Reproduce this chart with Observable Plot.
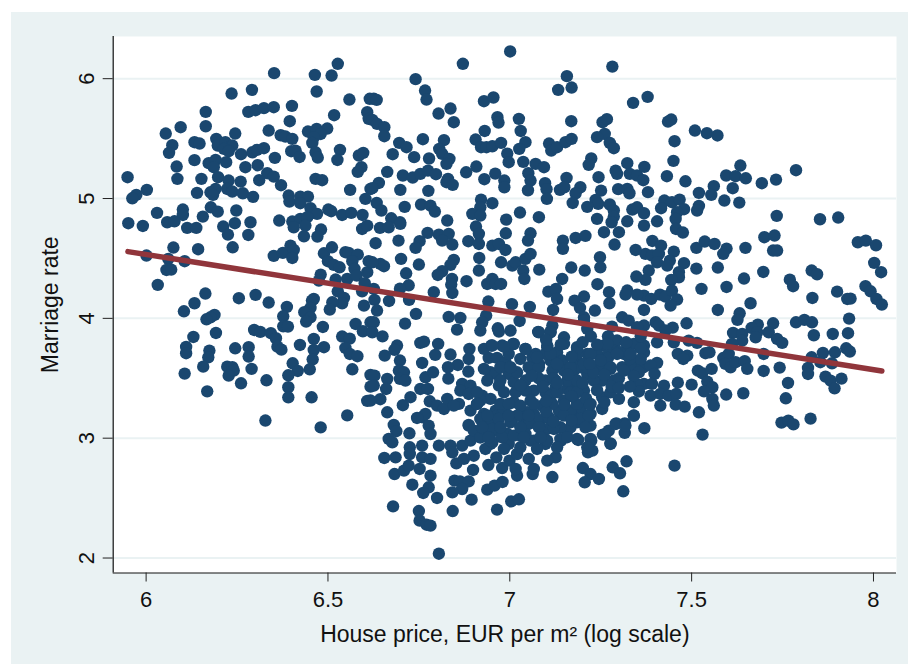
<!DOCTYPE html>
<html><head><meta charset="utf-8">
<script src="https://cdn.jsdelivr.net/npm/d3@7"></script>
<script src="https://cdn.jsdelivr.net/npm/@observablehq/plot@0.6"></script>
<style>
html,body{margin:0;padding:0;background:#fff;width:908px;height:664px;overflow:hidden}
#panel{position:absolute;left:11px;top:12px;width:897px;height:652px;background:#eaf2f3}
#chart{position:absolute;left:0;top:0}
#chart svg{background:transparent}
</style></head><body>
<div id="panel"></div><div id="chart"></div>
<script>
const xTicks=[6,6.5,7,7.5,8];
const yTicks=[2,3,4,5,6];
const xTitle="House price, EUR per m² (log scale)";
const yTitle="Marriage rate";
const fitX=[5.95,8.023];
const fitY=[4.557,3.561];
const upperLeft=[[6.352,6.046],[6.464,6.032],[6.510,6.026],[6.527,6.124],[6.469,5.893],[6.235,5.876],[6.291,5.907],[6.559,5.826],[6.164,5.723],[6.281,5.723],[6.301,5.737],[6.324,5.754],[6.351,5.762],[6.401,5.773],[6.395,5.645],[6.517,5.695],[6.164,5.603],[6.095,5.595],[6.054,5.542],[6.245,5.542],[6.337,5.567],[6.370,5.528],[6.383,5.517],[6.402,5.498],[6.445,5.559],[6.469,5.581],[6.498,5.584],[6.480,5.539],[6.461,5.512],[6.457,5.464],[6.133,5.470],[6.147,5.459],[6.193,5.498],[6.072,5.445],[6.063,5.381],[6.197,5.442],[6.218,5.470],[6.237,5.442],[6.214,5.414],[6.227,5.395],[6.261,5.370],[6.292,5.386],[6.305,5.406],[6.324,5.420],[6.399,5.395],[6.411,5.400],[6.422,5.347],[6.466,5.386],[6.472,5.342],[6.533,5.406],[6.526,5.322],[6.585,5.359],[6.597,5.381],[6.354,5.339],[6.133,5.320],[6.084,5.267],[6.172,5.295],[6.191,5.322],[6.186,5.261],[6.220,5.303],[6.273,5.261],[6.307,5.278],[6.086,5.164],[6.152,5.164],[6.198,5.178],[6.227,5.150],[6.260,5.141],[6.333,5.211],[6.351,5.183],[6.311,5.153],[6.371,5.111],[6.466,5.164],[6.484,5.153],[6.592,5.261],[6.582,5.222],[5.949,5.178],[6.002,5.072],[5.973,5.030],[5.962,5.002],[6.140,5.047],[6.191,5.080],[6.177,5.052],[6.184,5.030],[6.223,5.080],[6.237,5.058],[6.266,5.044],[6.294,5.014],[6.392,5.025],[6.394,4.975],[6.424,5.016],[6.445,5.016],[6.424,4.961],[6.452,4.919],[6.470,4.872],[6.501,4.908],[6.509,4.894],[6.539,4.863],[6.564,4.880],[6.595,4.863],[6.561,5.072],[6.603,4.997],[6.617,5.080],[6.615,5.832],[6.608,5.720],[6.612,5.665],[6.178,4.927],[6.197,4.891],[6.248,4.900],[6.030,4.880],[6.101,4.908],[6.101,4.863],[6.156,4.849],[6.244,4.794],[6.287,4.802],[6.366,4.816],[6.402,4.808],[6.424,4.830],[6.443,4.844],[5.951,4.794],[6.058,4.802],[6.078,4.810]];
const middleLeft=[[5.991,4.771],[6.113,4.755],[6.138,4.755],[6.212,4.766],[6.225,4.699],[6.281,4.696],[6.406,4.760],[6.438,4.774],[6.434,4.685],[6.481,4.741],[6.471,4.682],[6.594,4.746],[6.608,4.774],[6.075,4.591],[6.143,4.577],[6.238,4.593],[6.001,4.524],[6.061,4.496],[6.106,4.477],[6.056,4.404],[6.069,4.407],[6.032,4.279],[6.351,4.521],[6.376,4.546],[6.397,4.607],[6.406,4.571],[6.402,4.504],[6.489,4.543],[6.511,4.593],[6.500,4.477],[6.516,4.446],[6.532,4.426],[6.548,4.552],[6.557,4.546],[6.582,4.532],[6.567,4.477],[6.573,4.413],[6.553,4.329],[6.579,4.357],[6.612,4.477],[6.608,4.385],[6.480,4.365],[6.475,4.315],[6.521,4.324],[6.601,4.293],[6.594,4.226],[6.527,4.226],[6.544,4.170],[6.539,4.126],[6.512,4.134],[6.505,4.073],[6.599,4.106],[6.163,4.207],[6.133,4.126],[6.104,4.059],[6.255,4.168],[6.301,4.196],[6.337,4.132],[6.387,4.095],[6.377,4.017],[6.377,3.934],[6.390,3.931],[6.461,4.162],[6.456,4.148],[6.452,4.087],[6.435,4.051],[6.452,4.009],[6.440,3.973],[6.188,4.029],[6.177,4.009],[6.166,3.992],[6.192,3.878],[6.130,3.845],[6.486,3.928],[6.576,3.953],[6.596,3.892],[6.617,3.967],[6.297,3.903],[6.314,3.887],[6.343,3.876],[6.357,3.834],[6.461,3.828],[6.539,3.848],[6.560,3.831],[6.110,3.761],[6.110,3.709],[6.174,3.731],[6.171,3.675],[6.245,3.750],[6.282,3.759],[6.282,3.681],[6.361,3.764],[6.372,3.739],[6.423,3.778],[6.461,3.736],[6.489,3.759],[6.458,3.658],[6.548,3.753],[6.560,3.703],[6.581,3.684],[6.157,3.597],[6.106,3.539],[6.223,3.597],[6.237,3.592],[6.241,3.564],[6.227,3.522],[6.290,3.578],[6.261,3.458],[6.331,3.483],[6.403,3.625],[6.417,3.561],[6.391,3.525],[6.450,3.575],[6.567,3.575],[6.617,3.528],[6.391,3.425],[6.391,3.341],[6.455,3.341],[6.168,3.391],[6.608,3.311],[6.617,3.430],[6.328,3.147],[6.480,3.090],[6.553,3.190]];
const upperCentre=[[7.001,6.227],[6.871,6.124],[7.282,6.101],[6.741,5.996],[7.157,6.021],[7.133,5.907],[7.170,5.926],[6.767,5.901],[6.771,5.826],[6.626,5.832],[6.634,5.823],[6.929,5.812],[6.955,5.843],[6.837,5.751],[6.804,5.709],[6.846,5.637],[7.339,5.798],[6.966,5.679],[6.969,5.634],[7.025,5.665],[7.030,5.564],[7.169,5.645],[7.255,5.637],[7.267,5.662],[6.931,5.564],[7.261,5.539],[6.622,5.656],[6.635,5.623],[6.655,5.595],[6.655,5.520],[6.696,5.464],[6.716,5.428],[6.761,5.495],[6.819,5.487],[6.806,5.414],[6.678,5.370],[6.737,5.345],[6.778,5.334],[6.906,5.492],[6.921,5.428],[6.936,5.428],[6.952,5.436],[6.976,5.464],[6.993,5.375],[6.997,5.303],[7.043,5.470],[7.026,5.414],[7.037,5.306],[7.108,5.459],[7.114,5.400],[7.130,5.428],[7.153,5.470],[7.170,5.498],[7.240,5.512],[7.275,5.464],[7.286,5.420],[7.224,5.334],[7.217,5.281],[7.323,5.295],[7.071,5.289],[7.094,5.261],[6.814,5.373],[6.834,5.331],[6.826,5.289],[6.663,5.222],[6.706,5.192],[6.733,5.175],[6.754,5.206],[6.775,5.233],[6.797,5.203],[6.880,5.219],[6.908,5.267],[6.960,5.208],[6.930,5.161],[6.985,5.150],[6.985,5.094],[7.051,5.211],[7.057,5.150],[7.050,5.069],[7.097,5.128],[7.101,5.078],[7.102,4.997],[7.156,5.172],[7.138,5.072],[7.150,5.094],[7.194,5.094],[7.181,5.044],[7.173,4.963],[7.244,5.178],[7.291,5.233],[7.295,5.206],[7.330,5.206],[7.350,5.192],[7.251,5.066],[7.298,5.078],[7.323,5.080],[7.329,5.044],[7.236,4.988],[7.243,4.955],[7.213,4.930],[7.275,4.950],[7.286,4.900],[7.286,4.849],[7.337,4.908],[7.350,4.927],[6.830,5.164],[6.826,5.136],[6.843,5.114],[6.640,5.130],[6.622,5.086],[6.699,5.072],[6.776,5.064],[6.634,4.963],[6.647,4.900],[6.711,4.930],[6.756,4.950],[6.782,4.941],[6.794,4.891],[6.921,4.991],[6.952,4.961],[6.919,4.927],[6.897,4.872],[6.919,4.858],[7.028,4.883],[6.990,4.824],[7.080,4.844],[6.674,4.835],[6.698,4.802],[6.828,4.816],[7.240,4.830],[7.323,4.810]];
const upperRight=[[7.379,5.848],[7.435,5.642],[7.444,5.659],[7.509,5.567],[7.542,5.545],[7.571,5.526],[7.453,5.478],[7.450,5.314],[7.370,5.264],[7.367,5.153],[7.432,5.186],[7.483,5.144],[7.380,5.053],[7.634,5.275],[7.595,5.192],[7.621,5.186],[7.649,5.169],[7.613,5.086],[7.561,5.103],[7.554,5.030],[7.520,5.047],[7.693,5.128],[7.732,5.158],[7.787,5.236],[7.590,4.983],[7.631,4.966],[7.425,4.983],[7.446,4.969],[7.467,4.991],[7.416,4.919],[7.479,4.911],[7.460,4.886],[7.520,4.938],[7.515,4.900],[7.369,4.877],[7.405,4.810],[7.456,4.830],[7.734,4.855],[7.853,4.827],[7.903,4.841]];
const middleRight=[[7.369,4.774],[7.457,4.746],[7.476,4.716],[7.392,4.646],[7.416,4.607],[7.513,4.588],[7.536,4.641],[7.563,4.621],[7.596,4.582],[7.587,4.538],[7.648,4.588],[7.700,4.677],[7.728,4.691],[7.724,4.566],[7.735,4.566],[7.957,4.635],[7.979,4.649],[8.007,4.610],[8.002,4.463],[8.021,4.385],[7.373,4.538],[7.391,4.524],[7.410,4.538],[7.451,4.557],[7.440,4.482],[7.405,4.468],[7.433,4.440],[7.479,4.460],[7.513,4.415],[7.572,4.424],[7.382,4.399],[7.373,4.321],[7.465,4.385],[7.465,4.343],[7.444,4.321],[7.644,4.332],[7.697,4.387],[7.770,4.323],[7.779,4.268],[7.830,4.399],[7.845,4.368],[7.527,4.246],[7.596,4.262],[7.900,4.223],[7.978,4.268],[7.992,4.226],[8.008,4.162],[8.023,4.115],[7.928,4.162],[7.937,4.165],[7.832,4.170],[7.369,4.190],[7.389,4.162],[7.413,4.198],[7.428,4.182],[7.446,4.232],[7.460,4.157],[7.442,4.106],[7.369,4.070],[7.572,4.070],[7.662,4.126],[7.632,4.042],[7.626,3.987],[7.401,3.967],[7.410,3.940],[7.369,3.940],[7.448,3.923],[7.486,3.959],[7.428,3.898],[7.933,3.998],[7.787,3.967],[7.810,3.987],[7.831,3.967],[7.724,3.959],[7.682,3.948],[7.665,3.920],[7.680,3.884],[7.676,3.842],[7.712,3.884],[7.614,3.878],[7.639,3.870],[7.639,3.814],[7.836,3.859],[7.888,3.870],[7.930,3.876],[7.735,3.828],[7.749,3.795],[7.405,3.800],[7.451,3.800],[7.492,3.814],[7.515,3.795],[7.369,3.773],[7.611,3.787],[7.925,3.750],[7.935,3.723],[7.894,3.717],[7.861,3.711],[7.830,3.675],[7.854,3.634],[7.886,3.625],[7.698,3.703],[7.462,3.703],[7.488,3.689],[7.477,3.661],[7.538,3.709],[7.549,3.717],[7.587,3.669],[7.602,3.703],[7.593,3.620],[7.607,3.592],[7.621,3.634],[7.646,3.642],[7.653,3.578],[7.698,3.561],[7.742,3.589],[7.820,3.586],[7.820,3.536],[7.868,3.514],[7.882,3.480],[7.912,3.497],[7.893,3.416],[7.765,3.461],[7.759,3.333],[7.369,3.717],[7.367,3.592],[7.405,3.628],[7.387,3.606],[7.398,3.536],[7.517,3.564],[7.529,3.542],[7.555,3.578],[7.462,3.464],[7.500,3.447],[7.543,3.472],[7.557,3.425],[7.534,3.391],[7.595,3.364],[7.642,3.375],[7.369,3.453],[7.391,3.453],[7.424,3.439],[7.387,3.355],[7.414,3.369],[7.437,3.355],[7.458,3.369],[7.414,3.272],[7.456,3.280],[7.481,3.263],[7.557,3.327],[7.561,3.272],[7.520,3.216],[7.370,3.083],[7.530,3.030],[7.453,2.771],[7.747,3.130],[7.766,3.146],[7.780,3.115],[7.827,3.163]];
const middleCentre=[[6.643,4.755],[6.667,4.760],[6.699,4.788],[6.774,4.713],[6.631,4.627],[6.694,4.649],[6.752,4.644],[6.741,4.588],[6.805,4.699],[6.832,4.705],[6.814,4.649],[6.842,4.616],[6.886,4.644],[6.907,4.766],[6.915,4.705],[6.915,4.621],[6.989,4.710],[6.952,4.607],[6.970,4.621],[6.988,4.571],[7.057,4.710],[7.050,4.649],[7.146,4.649],[7.146,4.580],[7.181,4.671],[7.208,4.688],[7.259,4.719],[7.280,4.802],[7.300,4.719],[7.288,4.616],[7.346,4.571],[6.701,4.496],[6.750,4.449],[6.644,4.454],[6.654,4.435],[6.622,4.468],[6.715,4.376],[6.846,4.488],[6.837,4.446],[6.916,4.504],[6.915,4.399],[6.814,4.393],[6.802,4.362],[6.976,4.468],[7.007,4.440],[7.016,4.468],[7.043,4.496],[7.057,4.538],[7.037,4.399],[7.040,4.329],[7.081,4.407],[7.169,4.424],[7.206,4.399],[7.248,4.510],[7.249,4.426],[7.348,4.349],[6.841,4.329],[6.839,4.282],[6.842,4.212],[6.881,4.310],[6.938,4.287],[6.952,4.329],[6.961,4.287],[6.976,4.287],[7.144,4.329],[7.241,4.285],[6.722,4.276],[6.698,4.248],[6.791,4.218],[6.626,4.246],[6.628,4.154],[6.668,4.145],[6.723,4.154],[6.635,4.065],[7.106,4.223],[7.127,4.246],[7.130,4.162],[7.204,4.182],[7.178,4.148],[7.193,4.087],[7.273,4.218],[7.274,4.126],[7.323,4.232],[7.318,4.198],[7.350,4.198],[7.234,4.065],[7.204,4.009],[6.941,4.140],[7.006,4.118],[7.055,4.095],[7.119,4.070],[6.742,4.037],[6.712,3.956],[6.832,4.012],[6.864,4.004],[6.855,3.906],[6.935,4.023],[6.924,3.967],[6.919,3.898],[7.027,3.978],[6.967,3.917],[7.002,3.898],[7.078,3.887],[7.117,3.940],[7.112,3.889],[6.626,3.967],[6.622,3.884],[6.650,3.850],[7.204,3.981],[7.213,3.912],[7.223,3.850],[7.281,3.931],[7.309,4.009],[7.327,3.981],[7.350,3.926]];
const lowerWest=[[6.690,3.773],[6.656,3.689],[6.683,3.737],[6.698,3.648],[6.754,3.795],[6.764,3.806],[6.803,3.787],[6.795,3.695],[6.759,3.628],[6.837,3.698],[6.857,3.611],[6.830,3.592],[6.889,3.745],[6.887,3.661],[6.886,3.556],[6.831,3.497],[6.628,3.522],[6.663,3.495],[6.626,3.439],[6.660,3.411],[6.695,3.564],[6.709,3.550],[6.698,3.495],[6.713,3.481],[6.768,3.508],[6.789,3.550],[6.754,3.411],[6.775,3.411],[6.644,3.325],[6.617,3.314],[6.727,3.342],[6.706,3.275],[6.663,3.216],[6.780,3.308],[6.800,3.272],[6.819,3.244],[6.828,3.328],[6.860,3.286],[6.846,3.272],[6.869,3.453],[6.892,3.439],[6.864,3.397],[6.887,3.369],[6.924,3.355],[6.892,3.230],[6.910,3.286],[6.759,3.175],[6.768,3.202],[6.745,3.169],[6.681,3.111],[6.688,3.058],[6.724,3.041],[6.667,2.994],[6.677,2.966],[6.777,3.105],[6.782,3.035],[6.887,3.105],[6.910,3.035],[6.725,2.924],[6.759,2.938],[6.805,2.938],[6.837,2.938],[6.869,2.938],[6.933,3.035],[6.947,2.952],[6.965,3.063],[6.938,3.175],[6.961,3.230]];
const lowerBottom=[[6.655,2.835],[6.686,2.840],[6.725,2.868],[6.759,2.840],[6.782,2.827],[6.842,2.882],[6.901,2.854],[6.853,2.790],[6.874,2.827],[6.683,2.701],[6.709,2.729],[6.722,2.771],[6.752,2.743],[6.782,2.687],[6.732,2.612],[6.777,2.590],[6.762,2.543],[6.848,2.646],[6.863,2.640],[6.887,2.640],[6.869,2.576],[6.842,2.548],[6.800,2.501],[6.895,2.487],[6.679,2.431],[6.843,2.392],[6.750,2.392],[6.752,2.312],[6.771,2.278],[6.782,2.270],[6.805,2.036],[6.965,2.404],[7.004,2.473],[7.025,2.490],[6.938,2.571],[6.958,2.604],[6.980,2.635],[6.899,2.735],[6.941,2.776],[6.963,2.840],[6.979,2.751],[6.999,2.813],[7.020,2.687],[7.016,2.743],[7.063,2.701],[7.066,2.743],[7.117,2.676],[7.126,2.840],[7.103,2.813],[7.052,2.827],[7.201,2.751],[7.222,2.701],[7.245,2.660],[7.206,2.632],[7.283,2.757],[7.303,2.707],[7.321,2.807],[7.312,2.557],[7.215,2.882],[7.227,2.896],[7.224,2.980],[7.256,3.030],[7.272,3.063],[7.277,2.957],[7.293,3.124],[7.316,3.124],[7.316,3.044],[7.341,3.188],[6.887,3.110],[6.892,2.980],[6.919,3.007],[6.933,2.910],[6.952,2.966],[6.961,3.063],[6.947,3.147],[6.929,3.202],[6.965,3.188],[6.993,3.035],[6.997,2.952],[7.020,2.868],[7.007,3.160],[7.039,3.119],[7.029,3.021],[7.057,2.980],[7.080,3.119],[7.103,3.174],[7.094,3.063],[7.098,2.952],[7.121,3.077],[7.141,2.980],[7.158,3.063],[7.188,2.985],[7.185,3.133],[7.213,3.188],[7.222,3.105],[7.139,3.202],[7.176,3.202],[7.066,3.202],[7.034,3.202],[6.979,3.202]];
const denseCore=[[6.949,3.773],[6.979,3.773],[7.009,3.787],[6.942,3.670],[6.965,3.670],[6.988,3.634],[6.947,3.550],[6.961,3.536],[6.997,3.536],[7.011,3.467],[7.043,3.745],[7.029,3.661],[7.062,3.675],[7.103,3.759],[7.080,3.620],[7.112,3.648],[7.130,3.717],[7.144,3.648],[7.149,3.842],[7.185,3.759],[7.213,3.703],[7.185,3.648],[7.176,3.564],[7.149,3.564],[7.117,3.564],[7.098,3.481],[7.052,3.592],[7.043,3.481],[7.020,3.550],[7.080,3.884],[7.112,3.884],[6.970,3.890],[7.240,3.592],[7.259,3.773],[7.295,3.815],[7.323,3.759],[7.286,3.731],[7.341,3.787],[7.350,3.620],[7.309,3.592],[7.277,3.578],[7.254,3.481],[7.213,3.536],[7.254,3.342],[7.204,3.397],[7.176,3.439],[7.158,3.411],[7.126,3.425],[7.098,3.383],[7.066,3.397],[7.043,3.397],[7.011,3.300],[6.984,3.230],[6.947,3.328],[6.919,3.314],[6.970,3.439],[7.300,3.328],[7.341,3.300],[7.341,3.189],[7.254,3.244],[7.222,3.202],[7.194,3.258],[7.149,3.314],[7.112,3.355],[7.089,3.272],[7.135,3.230],[7.057,3.314],[7.048,3.216],[7.029,3.272],[7.075,3.161],[7.107,3.175],[7.167,3.230],[7.194,3.161],[7.208,3.091],[7.167,3.091],[7.139,3.091],[7.103,3.077],[7.052,3.119],[7.020,3.188],[7.002,3.133],[6.970,3.161],[6.952,3.077],[6.919,3.161],[6.901,3.063],[6.919,3.007],[6.947,2.980],[6.979,3.007],[7.011,3.021],[7.043,3.035],[7.066,2.980],[7.103,2.980],[7.139,2.994],[7.185,2.994],[7.222,2.994],[7.213,2.924],[7.263,3.035],[7.277,2.952],[7.291,3.119],[7.318,3.105],[6.984,2.910],[7.029,2.924],[7.075,2.910],[7.130,2.924],[6.929,3.578],[6.929,3.745]];
const denseFill=[[6.997,3.703],[7.071,3.703],[7.098,3.703],[7.185,3.703],[7.240,3.703],[7.272,3.703],[7.314,3.703],[6.974,3.592],[7.002,3.592],[7.080,3.592],[7.194,3.592],[7.213,3.592],[7.268,3.592],[7.332,3.592],[6.938,3.481],[6.974,3.481],[7.126,3.481],[7.158,3.481],[7.185,3.481],[7.231,3.481],[7.286,3.481],[6.910,3.383],[6.984,3.383],[7.016,3.383],[7.130,3.383],[7.167,3.383],[7.185,3.383],[7.277,3.383],[6.910,3.286],[6.974,3.286],[6.997,3.286],[7.066,3.286],[7.117,3.286],[7.185,3.286],[7.222,3.286],[6.938,3.188],[6.997,3.188],[7.052,3.188],[7.149,3.188],[7.217,3.188],[6.924,3.091],[6.974,3.091],[7.029,3.091],[7.080,3.091],[7.121,3.091],[6.942,3.008],[7.039,3.008],[7.084,3.008],[7.158,3.008],[7.360,3.750],[7.360,3.660],[7.355,3.550],[7.350,3.450],[7.355,3.390],[7.270,3.850],[7.300,3.720],[7.330,3.660],[7.270,3.670],[7.340,3.520],[7.300,3.500],[7.330,3.430],[7.280,3.430],[7.112,3.703],[7.149,3.787],[7.185,3.745],[7.222,3.703],[7.130,3.620],[7.167,3.592],[7.204,3.620],[7.075,3.675],[7.043,3.745],[7.103,3.773],[7.240,3.592],[7.268,3.787],[7.295,3.703],[7.332,3.703],[7.277,3.592],[7.314,3.564],[7.011,3.786],[6.984,3.764],[6.952,3.773]];
const denseExtra=[[7.08,3.50],[7.12,3.50],[7.16,3.53],[7.20,3.46],[7.23,3.55],[7.26,3.53],[7.09,3.43],[7.13,3.46],[7.17,3.35],[7.21,3.33],[7.24,3.40],[7.15,3.28],[7.10,3.22],[7.17,3.15],[7.12,3.14],[7.25,3.65],[7.22,3.62],[7.17,3.68],[7.14,3.78],[7.10,3.82],[7.20,3.80],[7.24,3.78],[7.06,3.52],[7.03,3.44],[7.10,3.31],[7.22,3.28],[7.30,3.42],[7.26,3.30],[7.32,3.80],[7.36,3.85]];
const points=[...upperLeft,...middleLeft,...upperCentre,...upperRight,...middleRight,...middleCentre,...lowerWest,...lowerBottom,...denseCore,...denseFill,...denseExtra];
const fit=fitX.map((x,i)=>({x,y:fitY[i]}));
const fmt=d=>String(d);
const plot=Plot.plot({
  width:908,height:664,
  marginLeft:112.7,marginRight:12,marginTop:36,marginBottom:91.5,
  style:{background:"transparent",fontFamily:"'Liberation Sans',Arial,sans-serif",color:"#111"},
  x:{domain:[5.9095,8.0633]},
  y:{domain:[1.875,6.352]},
  marks:[
    Plot.frame({fill:"#fff",stroke:"none"}),
    Plot.gridY(yTicks,{stroke:"#eaf2f3",strokeOpacity:1,strokeWidth:2}),
    Plot.dot(points,{x:d=>d[0],y:d=>d[1],r:6.2,fill:"#1a476f",stroke:"none"}),
    Plot.line(fit,{x:"x",y:"y",stroke:"#90353b",strokeWidth:5.5,strokeLinecap:"round"}),
    Plot.ruleX([5.9095],{stroke:"#111",strokeWidth:1.2}),
    Plot.ruleY([1.875],{stroke:"#111",strokeWidth:1.2}),
    Plot.axisX(xTicks,{tickFormat:fmt,tickSize:9,tickPadding:9,fontSize:22,label:null,stroke:"#222"}),
    Plot.axisX([],{tickSize:0,fontSize:23,label:xTitle,labelAnchor:"center",labelArrow:"none",labelOffset:69}),
    Plot.axisY(yTicks,{tickFormat:fmt,tickSize:10,tickPadding:9,tickRotate:-90,textAnchor:"middle",fontSize:22,label:null,stroke:"#222"}),
    Plot.axisY([],{tickSize:0,fontSize:23,label:yTitle,labelAnchor:"center",labelArrow:"none",labelOffset:72})
  ]
});
document.getElementById("chart").appendChild(plot);
</script>
</body></html>
